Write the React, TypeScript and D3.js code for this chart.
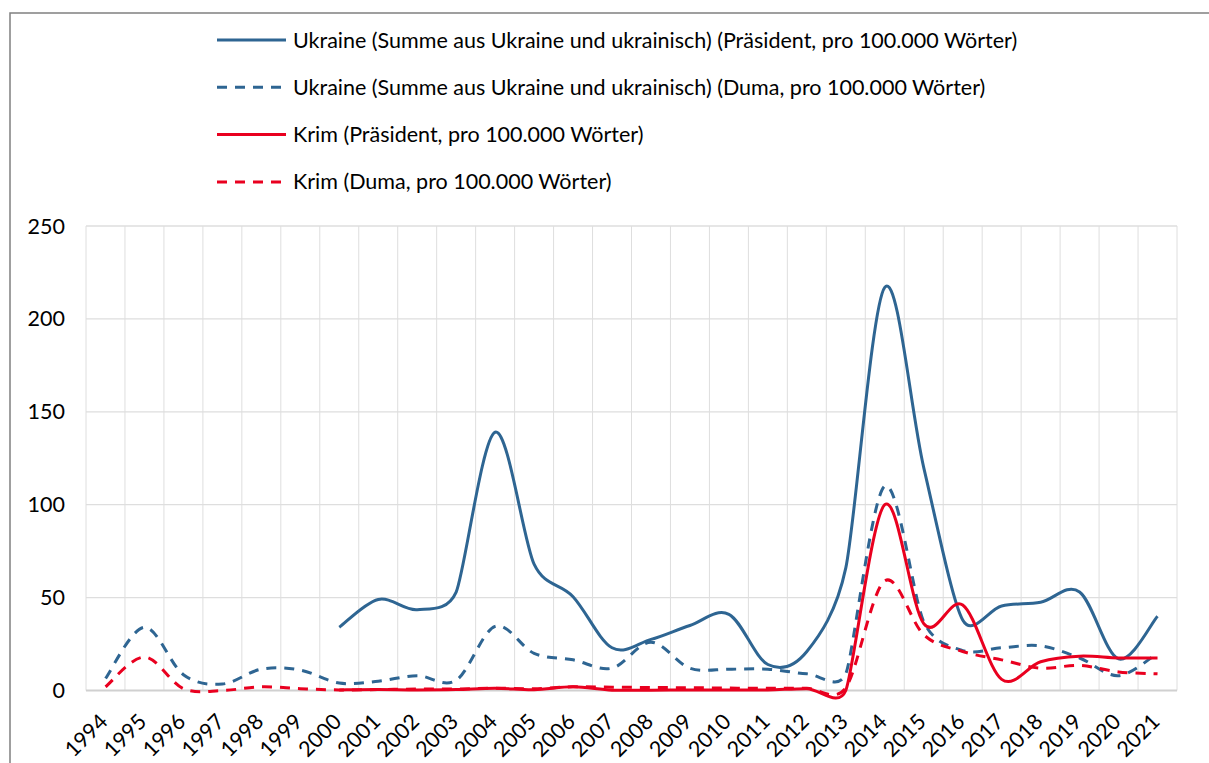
import * as d3 from 'd3';

const years = [
	'1994', '1995', '1996', '1997', '1998', '1999', '2000', '2001', '2002', '2003',
	'2004', '2005', '2006', '2007', '2008', '2009', '2010', '2011', '2012', '2013',
	'2014', '2015', '2016', '2017', '2018', '2019', '2020', '2021',
];

// Ukraine (Präsident)
const ukrPres: (number | null)[] = [
	null, null, null, null, null, null, 34, 49, 43.5, 53, 139, 68, 50.5, 23, 27.5, 35,
	41, 14, 21, 66, 217, 120, 38, 45.5, 47.5, 53, 17, 40,
];
// Ukraine (Duma)
const ukrDuma: (number | null)[] = [
	6.5, 34, 8.5, 3.5, 11.5, 11, 4, 5, 8, 5.5, 34.5, 20, 16.5, 12, 26, 12, 11.5, 11.5,
	9, 9, 110, 37, 21.5, 23, 24, 17.5, 8, 20,
];
// Krim (Präsident)
const krimPres: (number | null)[] = [
	null, null, null, null, null, null, 0.3, 0.5, 0.3, 0.5, 1.2, 0.4, 2, 0.2, 0.2, 0.3,
	0.3, 0.3, 1, 0, 100, 36, 46, 6, 15.5, 18.5, 17.5, 17.5,
];
// Krim (Duma)
const krimDuma: (number | null)[] = [
	2, 18, 1, 0, 2, 1, 0.3, 0.5, 0.8, 0.8, 1.2, 1, 2, 1.8, 1.6, 1.5, 1.3, 1.2, 1.2, 1.5,
	59, 30, 21, 16.5, 12, 13.5, 10, 9,
];

const yTicks = [0, 50, 100, 150, 200, 250];

const BLUE = '#2e6592';
const RED = '#e9001f';
const DASH = '10,8';

const series = [
	{ name: 'Ukraine (Summe aus Ukraine und ukrainisch) (Präsident, pro 100.000 Wörter)', values: ukrPres, color: BLUE, dashed: false },
	{ name: 'Ukraine (Summe aus Ukraine und ukrainisch) (Duma, pro 100.000 Wörter)', values: ukrDuma, color: BLUE, dashed: true },
	{ name: 'Krim (Präsident, pro 100.000 Wörter)', values: krimPres, color: RED, dashed: false },
	{ name: 'Krim (Duma, pro 100.000 Wörter)', values: krimDuma, color: RED, dashed: true },
];

// Excel-ish smoothing: bezier with 1/6 tangents, clamped to half the neighbouring segment
const excelSmooth = (context: any) => {
	let pts: number[][] = [];
	return {
		areaStart() {},
		areaEnd() {},
		lineStart() { pts = []; },
		point(px: number, py: number) { pts.push([+px, +py]); },
		lineEnd() {
			const n = pts.length;
			if (!n) return;
			context.moveTo(pts[0][0], pts[0][1]);
			if (n === 1) return;
			const dist = (a: number[], b: number[]) => Math.hypot(a[0] - b[0], a[1] - b[1]);
			const tan = pts.map((p, i) => {
				const a = pts[Math.max(i - 1, 0)], b = pts[Math.min(i + 1, n - 1)];
				let tx = (b[0] - a[0]) / 6, ty = (b[1] - a[1]) / 6;
				const dp = i > 0 ? dist(p, pts[i - 1]) : Infinity;
				const dn = i < n - 1 ? dist(p, pts[i + 1]) : Infinity;
				const lim = Math.min(dp, dn) / 2;
				const len = Math.hypot(tx, ty);
				if (len > lim) { tx *= lim / len; ty *= lim / len; }
				return [tx, ty];
			});
			for (let i = 0; i < n - 1; i++) {
				const p = pts[i], q = pts[i + 1];
				context.bezierCurveTo(p[0] + tan[i][0], p[1] + tan[i][1], q[0] - tan[i + 1][0], q[1] - tan[i + 1][1], q[0], q[1]);
			}
		},
	};
};

const App = () => {
	const width = 1209, height = 763;
	const plot = { left: 86, right: 1177, top: 226, bottom: 690.5 };
	const font = 'Lato, "Open Sans", sans-serif';
	const fs = 21.5;

	const x = d3.scaleBand().domain(years).range([plot.left, plot.right]);
	const y = d3.scaleLinear().domain([0, 250]).range([plot.bottom, plot.top]);
	const cx = (d: string) => (x(d) ?? 0) + x.bandwidth() / 2;

	const line = d3
		.line<number | null>()
		.defined((d) => d !== null)
		.x((_, i) => cx(years[i]))
		.y((d) => y(d as number))
		.curve(excelSmooth as any);

	return (
		<svg width={width} height={height} style={{ position: 'absolute', left: 0, top: 0 }} fontFamily={font}>
			<rect x={0} y={0} width={width} height={height} fill='#fff' />
			{/* outer frame, runs off the page at right and bottom */}
			<rect x={10} y={13} width={width} height={height} fill='none' stroke='#808080' strokeWidth={1.5} />

			{/* legend */}
			{series.map((s, i) => {
				const ly = 40 + i * 47.3;
				return (
					<g key={s.name}>
						<line x1={217} x2={286} y1={ly} y2={ly} stroke={s.color} strokeWidth={3}
							strokeDasharray={s.dashed ? DASH : undefined} />
						<text x={293} y={ly} dy='0.35em' fontSize={fs} fill='#000'>{s.name}</text>
					</g>
				);
			})}

			{/* gridlines */}
			{yTicks.filter((t) => t > 0).map((t) => (
				<line key={t} x1={plot.left} x2={plot.right} y1={y(t)} y2={y(t)} stroke='#dedede' strokeWidth={1.3} />
			))}
			{years.map((d) => (
				<line key={d} x1={x(d)} x2={x(d)} y1={plot.top} y2={plot.bottom} stroke='#dedede' strokeWidth={1} />
			))}
			<line x1={plot.right} x2={plot.right} y1={plot.top} y2={plot.bottom} stroke='#dedede' strokeWidth={1} />
			<line x1={plot.left} x2={plot.right} y1={y(0)} y2={y(0)} stroke='#d0d0d0' strokeWidth={2} />

			{/* y labels */}
			{yTicks.map((t) => (
				<text key={t} x={65} y={y(t)} dy='0.35em' textAnchor='end' fontSize={fs} fill='#000'>{t}</text>
			))}

			{/* x labels */}
			{years.map((d) => (
				<text key={d} transform={`translate(${cx(d) + 3.5}, 723) rotate(-45)`} textAnchor='end'
					fontSize={fs} fill='#000'>{d}</text>
			))}

			{/* lines */}
			{series.map((s) => (
				<path key={s.name} d={line(s.values) ?? ''} fill='none' stroke={s.color} strokeWidth={3}
					strokeLinejoin='round' strokeDasharray={s.dashed ? DASH : undefined} />
			))}
		</svg>
	);
};

export default App;
